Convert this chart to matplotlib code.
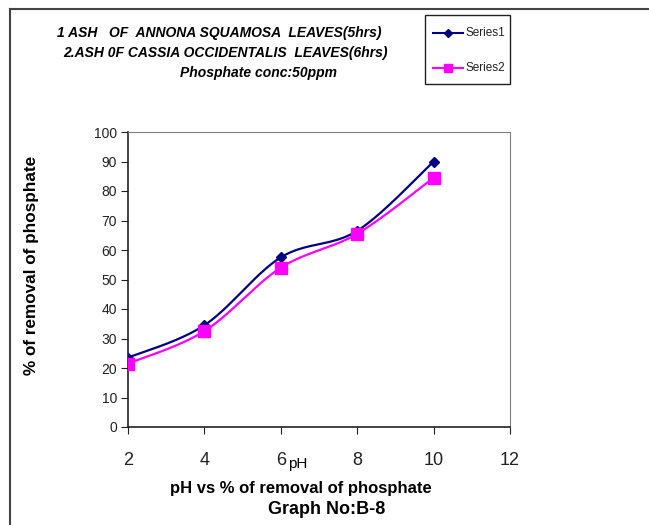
import numpy as np
import matplotlib
matplotlib.use("Agg")
import matplotlib.pyplot as plt
from matplotlib.lines import Line2D

plt.rcParams['font.family'] = ['Liberation Sans', 'DejaVu Sans']

ph = [2, 4, 6, 8, 10]
series1 = [23.5, 34.5, 57.5, 66.5, 90.0]
series2 = [21.5, 32.5, 54.0, 65.5, 84.5]
xticks = [2, 4, 6, 8, 10, 12]
yticks = list(range(0, 101, 10))
title_lines = ["1 ASH   OF  ANNONA SQUAMOSA  LEAVES(5hrs)",
               "2.ASH 0F CASSIA OCCIDENTALIS  LEAVES(6hrs)",
               "Phosphate conc:50ppm"]


def smooth(xs, ys, n=40):
    xs = np.asarray(xs, float); ys = np.asarray(ys, float)
    px = np.concatenate([[xs[0]], xs, [xs[-1]]])
    py = np.concatenate([[ys[0]], ys, [ys[-1]]])
    ox, oy = [], []
    t = np.linspace(0, 1, n)
    for i in range(1, len(px) - 2):
        p0, p1, p2, p3 = [np.array([px[j], py[j]]) for j in (i - 1, i, i + 1, i + 2)]
        c1 = p1 + (p2 - p0) / 6
        c2 = p2 - (p3 - p1) / 6
        b = ((1 - t) ** 3)[:, None] * p1 + (3 * (1 - t) ** 2 * t)[:, None] * c1 \
            + (3 * (1 - t) * t ** 2)[:, None] * c2 + (t ** 3)[:, None] * p2
        ox.extend(b[:, 0]); oy.extend(b[:, 1])
    return np.array(ox), np.array(oy)


W, H = 649, 525
fig = plt.figure(figsize=(W / 100, H / 100), dpi=100)
ax = fig.add_axes([128 / W, 1 - 427 / H, (510 - 128) / W, (427 - 132) / H])

c1, c2 = '#000080', '#FF00FF'
sx, sy = smooth(ph, series1)
ax.plot(sx, sy, color=c1, lw=1.6, zorder=3)
ax.plot(ph, series1, ls='none', marker='D', ms=5.5, color=c1, zorder=4)
sx, sy = smooth(ph, series2)
ax.plot(sx, sy, color=c2, lw=1.6, zorder=3)
ax.plot(ph, series2, ls='none', marker='s', ms=8, color=c2, zorder=5)

ax.set_xlim(2, 12)
ax.set_ylim(0, 100)
ax.set_xticks(xticks)
ax.set_yticks(yticks)
ax.tick_params(axis='x', labelsize=13, length=5, direction='out', pad=13, colors='#222222')
ax.tick_params(axis='y', labelsize=10, length=5, direction='out', pad=3, colors='#222222')
for s in ('top', 'right'):
    ax.spines[s].set_color('#808080')
for s in ('left', 'bottom'):
    ax.spines[s].set_color('#222222')
    ax.spines[s].set_linewidth(1.2)

fig.text(32 / W, 1 - 265 / H, "% of removal of phosphate", rotation=90, ha='center', va='center',
         fontsize=12.3, fontweight='bold')
fig.text(298 / W, 1 - 464 / H, "pH", ha='center', va='center', fontsize=11)
fig.text(301 / W, 1 - 489 / H, "pH vs % of removal of phosphate", ha='center', va='center',
         fontsize=12, fontweight='bold')
fig.text(327 / W, 1 - 509 / H, "Graph No:B-8", ha='center', va='center',
         fontsize=13, fontweight='bold')

tpos = [(219, 33), (225, 53), (259, 73)]
for (x, y), s in zip(tpos, title_lines):
    fig.text(x / W, 1 - y / H, s, ha='center', va='center', fontsize=10,
             fontweight='bold', style='italic')

# outer border (top and left)
fig.add_artist(Line2D([10 / W, 1], [1 - 9 / H, 1 - 9 / H], color='#444444', lw=1.5))
fig.add_artist(Line2D([10 / W, 10 / W], [0, 1 - 9 / H], color='#444444', lw=1.5))

# legend box
lx0, ly0, lx1, ly1 = 425, 15, 510, 84
fig.add_artist(plt.Rectangle((lx0 / W, 1 - ly1 / H), (lx1 - lx0) / W, (ly1 - ly0) / H,
                             fill=False, edgecolor='#222222', lw=1.0))
for yy, col, mk, ms, lab in [(33, c1, 'D', 4, 'Series1'), (68, c2, 's', 6, 'Series2')]:
    fig.add_artist(Line2D([433 / W, 463 / W], [1 - yy / H] * 2, color=col, lw=1.5))
    fig.add_artist(Line2D([448 / W], [1 - yy / H], color=col, marker=mk, ms=ms, ls='none'))
    fig.text(465 / W, 1 - yy / H, lab, ha='left', va='center', fontsize=8.5, color='#222222')

fig.savefig('out.png', dpi=100)
